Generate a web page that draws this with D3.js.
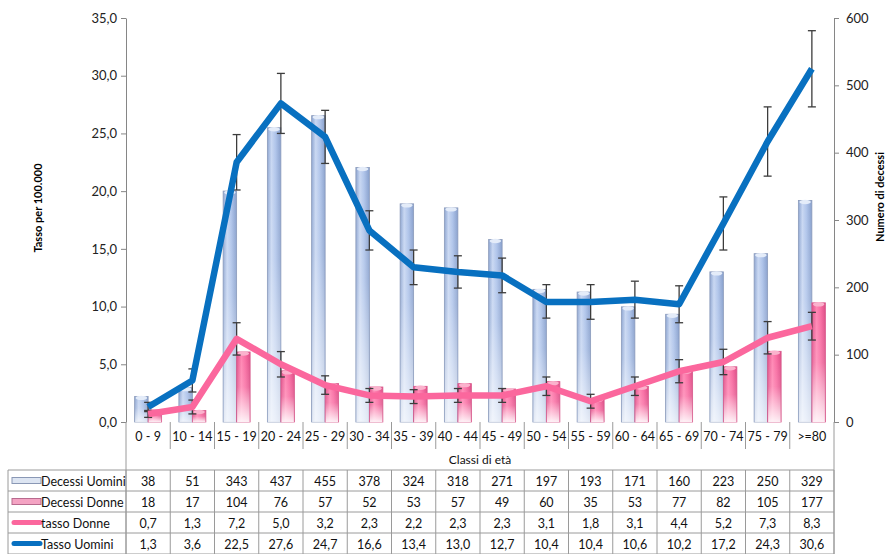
<!DOCTYPE html>
<html>
<head>
<meta charset="utf-8">
<script src="https://cdn.jsdelivr.net/npm/d3@7/dist/d3.min.js"></script>
<style>
  html, body { margin: 0; padding: 0; background: #fff; }
  svg { display: block; font-family: Lato, "Open Sans", sans-serif; }
</style>
</head>
<body>
<svg id="chart" width="887" height="554"></svg>
<script>
// Age classes
const categories = ["0 - 9", "10 - 14", "15 - 19", "20 - 24", "25 - 29", "30 - 34", "35 - 39", "40 - 44",
  "45 - 49", "50 - 54", "55 - 59", "60 - 64", "65 - 69", "70 - 74", "75 - 79", ">=80"];

// Deaths (right axis)
const decessiUomini = [38, 51, 343, 437, 455, 378, 324, 318, 271, 197, 193, 171, 160, 223, 250, 329];
const decessiDonne = [18, 17, 104, 76, 57, 52, 53, 57, 49, 60, 35, 53, 77, 82, 105, 177];

// Rates per 100.000 (left axis)
const tassoDonne = [0.7, 1.3, 7.2, 5.0, 3.2, 2.3, 2.2, 2.3, 2.3, 3.1, 1.8, 3.1, 4.4, 5.2, 7.3, 8.3];
const tassoUomini = [1.3, 3.6, 22.5, 27.6, 24.7, 16.6, 13.4, 13.0, 12.7, 10.4, 10.4, 10.6, 10.2, 17.2, 24.3, 30.6];

// Confidence limits of the rates
const uominiLow = [0.9, 2.6, 20.1, 25.0, 22.4, 14.9, 11.9, 11.6, 11.2, 9.0, 8.9, 9.0, 8.6, 14.9, 21.3, 27.3];
const uominiHigh = [1.7, 4.6, 24.9, 30.2, 27.0, 18.3, 14.9, 14.4, 14.2, 11.9, 11.9, 12.2, 11.8, 19.5, 27.3, 33.9];
const donneLow = [0.4, 0.7, 5.8, 3.9, 2.4, 1.7, 1.6, 1.7, 1.7, 2.3, 1.2, 2.3, 3.4, 4.1, 5.9, 7.1];
const donneHigh = [1.0, 1.9, 8.6, 6.1, 4.0, 2.9, 2.8, 2.9, 2.9, 3.9, 2.4, 3.9, 5.4, 6.3, 8.7, 9.5];

// Axis ticks
const rateTicks = [0, 5, 10, 15, 20, 25, 30, 35];
const countTicks = [0, 100, 200, 300, 400, 500, 600];

const svg = d3.select("#chart");
const plot = { left: 126, right: 834, top: 18, bottom: 422 };

const it = d3.formatLocale({ decimal: ",", thousands: ".", grouping: [3], currency: ["€", ""] });
const fmt1 = it.format(".1f");

const x = d3.scaleBand().domain(categories).range([plot.left, plot.right]);
const barPos = d3.scaleBand().domain(["Uomini", "Donne"]).range([-13.5, 13.5]);
const yRate = d3.scaleLinear().domain([0, 35]).range([plot.bottom, plot.top]);
const yCount = d3.scaleLinear().domain([0, 600]).range([plot.bottom, plot.top]);
const cx = c => x(c) + x.bandwidth() / 2;

// ---- gradients for the cylinder-like bars
const defs = svg.append("defs");
function hGrad(id, stops) {
  const g = defs.append("linearGradient").attr("id", id).attr("x1", 0).attr("x2", 1).attr("y1", 0).attr("y2", 0);
  stops.forEach(s => g.append("stop").attr("offset", s[0]).attr("stop-color", s[1]));
}
function vFade(id, stops) {
  const g = defs.append("linearGradient").attr("id", id).attr("x1", 0).attr("x2", 0).attr("y1", 0).attr("y2", 1);
  stops.forEach(s => g.append("stop").attr("offset", s[0]).attr("stop-color", "#fff").attr("stop-opacity", s[1]));
}
hGrad("blueSide", [[0, "#8ca4d0"], [0.3, "#c8d7f2"], [0.6, "#afc4ea"], [1, "#879fcc"]]);
vFade("blueFade", [[0, 0], [0.45, 0.15], [1, 0.75]]);
hGrad("pinkSide", [[0, "#e14f89"], [0.35, "#ff86b3"], [0.65, "#f86ba1"], [1, "#de4c86"]]);
vFade("pinkFade", [[0, 0], [0.5, 0.15], [1, 0.9]]);

// ---- bars
const bw = barPos.bandwidth();
function drawBars(values, key, side, fade, stroke, cap) {
  const g = svg.append("g");
  const sel = g.selectAll("g").data(categories).join("g");
  sel.append("rect")
    .attr("x", (c) => cx(c) + barPos(key))
    .attr("y", (c, i) => yCount(values[i]))
    .attr("width", bw)
    .attr("height", (c, i) => yCount(0) - yCount(values[i]))
    .attr("fill", `url(#${side})`)
    .attr("stroke", stroke).attr("stroke-width", 0.8);
  sel.append("rect")
    .attr("x", (c) => cx(c) + barPos(key) + 0.5)
    .attr("y", (c, i) => yCount(values[i]))
    .attr("width", bw - 1)
    .attr("height", (c, i) => yCount(0) - yCount(values[i]))
    .attr("fill", `url(#${fade})`);
  sel.append("ellipse")
    .attr("cx", (c) => cx(c) + barPos(key) + bw / 2)
    .attr("cy", (c, i) => yCount(values[i]) + 1.5)
    .attr("rx", bw / 2 - 1)
    .attr("ry", 2.2)
    .attr("fill", cap);
}
drawBars(decessiUomini, "Uomini", "blueSide", "blueFade", "#8c9bbb", "#e4ecf9");
drawBars(decessiDonne, "Donne", "pinkSide", "pinkFade", "#d65a8c", "#fbb2cd");

// ---- error bars
function drawErrors(low, high) {
  const g = svg.append("g").attr("stroke", "#3c3c3c").attr("stroke-width", 1.3);
  categories.forEach((c, i) => {
    const px = cx(c);
    g.append("line").attr("x1", px).attr("x2", px).attr("y1", yRate(low[i])).attr("y2", yRate(high[i]));
    g.append("line").attr("x1", px - 4).attr("x2", px + 4).attr("y1", yRate(low[i])).attr("y2", yRate(low[i]));
    g.append("line").attr("x1", px - 4).attr("x2", px + 4).attr("y1", yRate(high[i])).attr("y2", yRate(high[i]));
  });
}
drawErrors(uominiLow, uominiHigh);
drawErrors(donneLow, donneHigh);

// ---- rate lines
const line = d3.line().x((d, i) => cx(categories[i])).y(d => yRate(d));
svg.append("path").datum(tassoDonne).attr("d", line)
  .attr("fill", "none").attr("stroke", "#fb679d").attr("stroke-width", 6.5).attr("stroke-linejoin", "round");
svg.append("path").datum(tassoUomini).attr("d", line)
  .attr("fill", "none").attr("stroke", "#0870c0").attr("stroke-width", 6.5).attr("stroke-linejoin", "round");

// ---- axes
const axisL = svg.append("g").attr("transform", `translate(${plot.left},0)`)
  .call(d3.axisLeft(yRate).tickValues(rateTicks).tickFormat(fmt1).tickSize(5).tickSizeOuter(0).tickPadding(4));
const axisR = svg.append("g").attr("transform", `translate(${plot.right},0)`)
  .call(d3.axisRight(yCount).tickValues(countTicks).tickFormat(d3.format("d")).tickSize(5).tickSizeOuter(0).tickPadding(7));
[axisL, axisR].forEach(a => {
  a.selectAll("path, line").attr("stroke", "#868686");
  a.selectAll("text").attr("fill", "#222").style("font-size", "13px").style("font-family", "Lato, sans-serif");
});

svg.append("text").attr("transform", "translate(37,208) rotate(-90)")
  .attr("text-anchor", "middle").attr("dominant-baseline", "central")
  .style("font-size", "11px").style("font-weight", "bold").text("Tasso per 100.000");
svg.append("text").attr("transform", "translate(879,197) rotate(-90)")
  .attr("text-anchor", "middle").attr("dominant-baseline", "central")
  .style("font-size", "11px").style("font-weight", "bold").text("Numero di decessi");

// ---- data table under the plot
const tbl = svg.append("g");
const gridColor = "#9a9a9a";
const headTop = plot.bottom, headBottom = 449, classBottom = 470;
const rowTops = [470, 491, 512, 533];
const rowH = 21;
const tableLeft = 8;
const edges = categories.map(c => x(c)).concat([plot.right]);

// header separators
edges.forEach((ex, i) => {
  const isOuter = i === 0 || i === edges.length - 1;
  tbl.append("line").attr("x1", ex).attr("x2", ex).attr("y1", headTop)
    .attr("y2", isOuter ? 554 : headBottom).attr("stroke", gridColor);
});
categories.forEach(c => {
  tbl.append("text").attr("x", cx(c)).attr("y", (headTop + headBottom) / 2 + 1)
    .attr("text-anchor", "middle").attr("dominant-baseline", "central")
    .style("font-size", "12.5px").attr("fill", "#111").text(c);
});
tbl.append("text").attr("x", (plot.left + plot.right) / 2).attr("y", (headBottom + classBottom) / 2)
  .attr("text-anchor", "middle").attr("dominant-baseline", "central")
  .style("font-size", "12px").attr("fill", "#111").text("Classi di età");

// row grid
rowTops.concat([554]).forEach(ry => {
  tbl.append("line").attr("x1", tableLeft).attr("x2", plot.right).attr("y1", ry).attr("y2", ry).attr("stroke", gridColor);
});
edges.concat([tableLeft]).forEach(ex => {
  tbl.append("line").attr("x1", ex).attr("x2", ex).attr("y1", rowTops[0]).attr("y2", 554).attr("stroke", gridColor);
});

const rows = [
  { name: "Decessi Uomini", values: decessiUomini, fmt: d3.format("d"), key: "barBlue" },
  { name: "Decessi Donne", values: decessiDonne, fmt: d3.format("d"), key: "barPink" },
  { name: "tasso Donne", values: tassoDonne, fmt: fmt1, key: "linePink" },
  { name: "Tasso Uomini", values: tassoUomini, fmt: fmt1, key: "lineBlue" }
];
rows.forEach((r, ri) => {
  const mid = rowTops[ri] + rowH / 2;
  if (r.key === "barBlue") {
    tbl.append("rect").attr("x", 12).attr("y", mid - 3).attr("width", 29).attr("height", 6)
      .attr("fill", "#dde5f2").attr("stroke", "#8a98b5").attr("stroke-width", 1);
  } else if (r.key === "barPink") {
    tbl.append("rect").attr("x", 12).attr("y", mid - 3).attr("width", 29).attr("height", 6)
      .attr("fill", "#f4a3c3").attr("stroke", "#b86a8e").attr("stroke-width", 1);
  } else {
    tbl.append("line").attr("x1", 14).attr("x2", 40).attr("y1", mid).attr("y2", mid)
      .attr("stroke", r.key === "linePink" ? "#fb679d" : "#0870c0")
      .attr("stroke-width", 5).attr("stroke-linecap", "round");
  }
  tbl.append("text").attr("x", 41).attr("y", mid + 1).attr("dominant-baseline", "central")
    .style("font-size", "12.5px").attr("fill", "#111").text(r.name);
  categories.forEach((c, i) => {
    tbl.append("text").attr("x", cx(c)).attr("y", mid + 1)
      .attr("text-anchor", "middle").attr("dominant-baseline", "central")
      .style("font-size", "12.5px").attr("fill", "#111").text(r.fmt(r.values[i]));
  });
});
</script>
</body>
</html>
